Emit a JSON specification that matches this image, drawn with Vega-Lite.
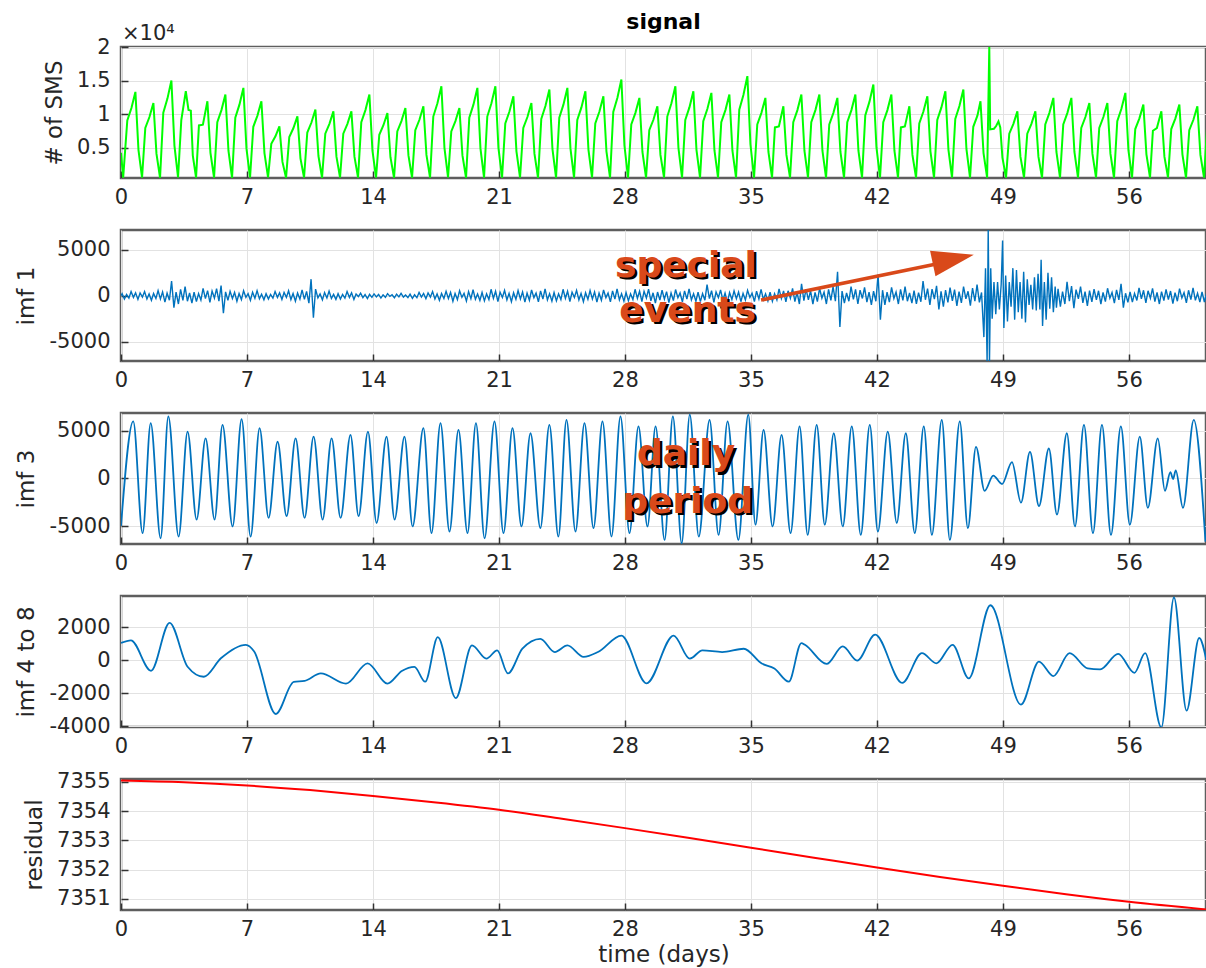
{
"$schema": "https://vega.github.io/schema/vega-lite/v6.json",
"padding": {"left": 14, "top": 9, "right": 0, "bottom": 5},
"spacing": 52,
"bounds": "flush",
"config": {
 "font": "DejaVu Sans",
 "view": {"stroke": "#5e5e5e", "strokeWidth": 2.5},
 "axis": {"domain": false, "grid": true, "gridColor": "#e2e2e2", "gridWidth": 1, "tickColor": "#333333", "tickSize": -7, "tickWidth": 1.5, "labelFontSize": 21, "labelColor": "#262626", "labelFont": "DejaVu Sans", "labelFlush": false, "titleFontSize": 23, "titleFontWeight": "normal", "titleColor": "#262626", "titleFont": "DejaVu Sans"},
 "axisX": {"labelPadding": 15, "titlePadding": 4},
 "axisY": {"labelPadding": 18, "titlePadding": 10}
},
"datasets": {
"sig": [
{"t":0,"v":4200},{"t":0.12,"v":500},{"t":0.35,"v":9040},{"t":0.58,"v":10900},{"t":0.8,"v":13300},{"t":0.97,"v":4660},
{"t":1.17,"v":520},{"t":1.35,"v":7920},{"t":1.58,"v":9550},{"t":1.8,"v":11650},{"t":1.97,"v":4080},
{"t":2.17,"v":490},{"t":2.35,"v":10200},{"t":2.58,"v":12300},{"t":2.8,"v":15000},{"t":2.97,"v":5250},
{"t":3.17,"v":530},{"t":3.35,"v":9100},{"t":3.6,"v":13400},{"t":3.75,"v":10600},{"t":3.88,"v":10500},{"t":3.99,"v":3800},
{"t":4.17,"v":500},{"t":4.33,"v":8300},{"t":4.55,"v":8400},{"t":4.8,"v":11900},{"t":4.97,"v":4200},
{"t":5.17,"v":510},{"t":5.35,"v":8770},{"t":5.58,"v":10580},{"t":5.8,"v":12900},{"t":5.97,"v":4520},
{"t":6.17,"v":480},{"t":6.35,"v":9450},{"t":6.58,"v":11400},{"t":6.8,"v":13900},{"t":6.97,"v":4870},
{"t":7.17,"v":520},{"t":7.35,"v":8090},{"t":7.58,"v":9760},{"t":7.8,"v":11900},{"t":7.97,"v":4170},
{"t":8.17,"v":540},{"t":8.35,"v":5540},{"t":8.58,"v":6680},{"t":8.8,"v":8150},{"t":8.97,"v":2850},
{"t":9.17,"v":500},{"t":9.35,"v":6560},{"t":9.58,"v":7910},{"t":9.8,"v":9650},{"t":9.97,"v":3380},
{"t":10.17,"v":520},{"t":10.35,"v":7240},{"t":10.58,"v":8730},{"t":10.8,"v":10650},{"t":10.97,"v":3730},
{"t":11.17,"v":490},{"t":11.35,"v":7070},{"t":11.58,"v":8530},{"t":11.8,"v":10400},{"t":11.97,"v":3640},
{"t":12.17,"v":530},{"t":12.35,"v":7070},{"t":12.58,"v":8530},{"t":12.8,"v":10400},{"t":12.97,"v":3640},
{"t":13.17,"v":500},{"t":13.35,"v":8770},{"t":13.58,"v":10580},{"t":13.8,"v":12900},{"t":13.97,"v":4520},
{"t":14.17,"v":520},{"t":14.35,"v":6900},{"t":14.58,"v":8320},{"t":14.8,"v":10150},{"t":14.97,"v":3550},
{"t":15.17,"v":490},{"t":15.35,"v":7410},{"t":15.58,"v":8940},{"t":15.8,"v":10900},{"t":15.97,"v":3820},
{"t":16.17,"v":510},{"t":16.35,"v":7580},{"t":16.58,"v":9140},{"t":16.8,"v":11150},{"t":16.97,"v":3900},
{"t":17.17,"v":500},{"t":17.35,"v":9620},{"t":17.58,"v":11600},{"t":17.8,"v":14150},{"t":17.97,"v":4950},
{"t":18.17,"v":530},{"t":18.35,"v":7410},{"t":18.58,"v":8940},{"t":18.8,"v":10900},{"t":18.97,"v":3820},
{"t":19.17,"v":490},{"t":19.35,"v":9450},{"t":19.58,"v":11400},{"t":19.8,"v":13900},{"t":19.97,"v":4870},
{"t":20.17,"v":510},{"t":20.35,"v":9620},{"t":20.58,"v":11600},{"t":20.8,"v":14150},{"t":20.97,"v":4950},
{"t":21.17,"v":500},{"t":21.35,"v":8600},{"t":21.58,"v":10370},{"t":21.8,"v":12650},{"t":21.97,"v":4430},
{"t":22.17,"v":520},{"t":22.35,"v":7920},{"t":22.58,"v":9550},{"t":22.8,"v":11650},{"t":22.97,"v":4080},
{"t":23.17,"v":490},{"t":23.35,"v":9280},{"t":23.58,"v":11190},{"t":23.8,"v":13650},{"t":23.97,"v":4780},
{"t":24.17,"v":510},{"t":24.35,"v":9450},{"t":24.58,"v":11400},{"t":24.8,"v":13900},{"t":24.97,"v":4870},
{"t":25.17,"v":500},{"t":25.35,"v":9110},{"t":25.58,"v":10990},{"t":25.8,"v":13400},{"t":25.97,"v":4690},
{"t":26.17,"v":520},{"t":26.35,"v":8600},{"t":26.58,"v":10370},{"t":26.8,"v":12650},{"t":26.97,"v":4430},
{"t":27.17,"v":490},{"t":27.35,"v":10300},{"t":27.58,"v":12420},{"t":27.8,"v":15150},{"t":27.97,"v":5300},
{"t":28.17,"v":510},{"t":28.35,"v":8430},{"t":28.58,"v":10170},{"t":28.8,"v":12400},{"t":28.97,"v":4340},
{"t":29.17,"v":500},{"t":29.35,"v":7580},{"t":29.58,"v":9140},{"t":29.8,"v":11150},{"t":29.97,"v":3900},
{"t":30.17,"v":520},{"t":30.35,"v":9620},{"t":30.58,"v":11600},{"t":30.8,"v":14150},{"t":30.97,"v":4950},
{"t":31.17,"v":490},{"t":31.35,"v":9110},{"t":31.58,"v":10990},{"t":31.8,"v":13400},{"t":31.97,"v":4690},
{"t":32.17,"v":510},{"t":32.35,"v":8940},{"t":32.58,"v":10780},{"t":32.8,"v":13150},{"t":32.97,"v":4600},
{"t":33.17,"v":500},{"t":33.35,"v":8770},{"t":33.58,"v":10580},{"t":33.8,"v":12900},{"t":33.97,"v":4520},
{"t":34.17,"v":520},{"t":34.35,"v":10640},{"t":34.58,"v":12830},{"t":34.8,"v":15650},{"t":34.97,"v":5480},
{"t":35.17,"v":490},{"t":35.35,"v":8430},{"t":35.58,"v":10170},{"t":35.8,"v":12400},{"t":35.97,"v":4340},
{"t":36.17,"v":510},{"t":36.33,"v":8000},{"t":36.55,"v":8150},{"t":36.8,"v":11150},{"t":36.97,"v":3900},
{"t":37.17,"v":500},{"t":37.35,"v":8770},{"t":37.58,"v":10580},{"t":37.8,"v":12900},{"t":37.97,"v":4520},
{"t":38.17,"v":520},{"t":38.35,"v":8770},{"t":38.58,"v":10580},{"t":38.8,"v":12900},{"t":38.97,"v":4520},
{"t":39.17,"v":490},{"t":39.35,"v":8430},{"t":39.58,"v":10170},{"t":39.8,"v":12400},{"t":39.97,"v":4340},
{"t":40.17,"v":510},{"t":40.35,"v":8770},{"t":40.58,"v":10580},{"t":40.8,"v":12900},{"t":40.97,"v":4520},
{"t":41.17,"v":500},{"t":41.35,"v":9790},{"t":41.58,"v":11810},{"t":41.8,"v":14400},{"t":41.97,"v":5040},
{"t":42.17,"v":520},{"t":42.35,"v":8770},{"t":42.58,"v":10580},{"t":42.8,"v":12900},{"t":42.97,"v":4520},
{"t":43.17,"v":490},{"t":43.33,"v":8000},{"t":43.55,"v":8150},{"t":43.8,"v":11150},{"t":43.97,"v":3900},
{"t":44.17,"v":510},{"t":44.35,"v":8600},{"t":44.58,"v":10370},{"t":44.8,"v":12650},{"t":44.97,"v":4430},
{"t":45.17,"v":500},{"t":45.35,"v":9110},{"t":45.58,"v":10990},{"t":45.8,"v":13400},{"t":45.97,"v":4690},
{"t":46.17,"v":520},{"t":46.35,"v":9280},{"t":46.58,"v":11190},{"t":46.8,"v":13650},{"t":46.97,"v":4780},
{"t":47.17,"v":490},{"t":47.35,"v":8090},{"t":47.58,"v":9760},{"t":47.75,"v":11900},{"t":47.92,"v":4170},
{"t":48.12,"v":500},{"t":48.24,"v":20000},{"t":48.29,"v":7700},{"t":48.5,"v":7800},{"t":48.62,"v":8200},{"t":48.75,"v":8900},{"t":48.85,"v":8000},{"t":48.97,"v":3500},
{"t":49.17,"v":500},{"t":49.35,"v":7070},{"t":49.58,"v":8530},{"t":49.8,"v":10400},{"t":49.97,"v":3640},
{"t":50.17,"v":520},{"t":50.35,"v":7070},{"t":50.58,"v":8530},{"t":50.8,"v":10400},{"t":50.97,"v":3640},
{"t":51.17,"v":490},{"t":51.35,"v":8430},{"t":51.58,"v":10170},{"t":51.8,"v":12400},{"t":51.97,"v":4340},
{"t":52.17,"v":510},{"t":52.35,"v":8430},{"t":52.58,"v":10170},{"t":52.8,"v":12400},{"t":52.97,"v":4340},
{"t":53.17,"v":500},{"t":53.35,"v":7920},{"t":53.58,"v":9550},{"t":53.8,"v":11650},{"t":53.97,"v":4080},
{"t":54.17,"v":520},{"t":54.35,"v":7920},{"t":54.58,"v":9550},{"t":54.8,"v":11650},{"t":54.97,"v":4080},
{"t":55.17,"v":490},{"t":55.35,"v":8940},{"t":55.58,"v":10780},{"t":55.8,"v":13150},{"t":55.97,"v":4600},
{"t":56.17,"v":510},{"t":56.35,"v":7750},{"t":56.58,"v":9350},{"t":56.8,"v":11400},{"t":56.97,"v":3990},
{"t":57.17,"v":500},{"t":57.33,"v":7500},{"t":57.55,"v":7900},{"t":57.8,"v":10400},{"t":57.97,"v":3640},
{"t":58.17,"v":520},{"t":58.35,"v":7750},{"t":58.58,"v":9350},{"t":58.8,"v":11400},{"t":58.97,"v":3990},
{"t":59.17,"v":490},{"t":59.35,"v":7580},{"t":59.58,"v":9140},{"t":59.8,"v":11150},{"t":59.97,"v":3900},
{"t":60.17,"v":510},{"t":60.35,"v":8500}
],
"imf1": [
{"t":0,"v":0},{"t":0.06,"v":225},{"t":0.19,"v":-360},{"t":0.31,"v":135},{"t":0.44,"v":-270},{"t":0.56,"v":450},{"t":0.69,"v":-180},{"t":0.81,"v":315},{"t":0.94,"v":-405},
{"t":1.06,"v":300},{"t":1.19,"v":-150},{"t":1.31,"v":450},{"t":1.44,"v":-350},{"t":1.56,"v":200},{"t":1.69,"v":-500},{"t":1.81,"v":250},{"t":1.94,"v":-300},
{"t":2.06,"v":560},{"t":2.19,"v":-350},{"t":2.31,"v":420},{"t":2.44,"v":-700},{"t":2.56,"v":280},{"t":2.69,"v":-490},{"t":2.81,"v":1600},{"t":2.94,"v":-1300},
{"t":3.06,"v":400},{"t":3.19,"v":-900},{"t":3.31,"v":700},{"t":3.44,"v":-500},{"t":3.56,"v":1000},{"t":3.69,"v":-600},{"t":3.81,"v":300},{"t":3.94,"v":-800},
{"t":4.06,"v":400},{"t":4.19,"v":-640},{"t":4.31,"v":240},{"t":4.44,"v":-480},{"t":4.56,"v":800},{"t":4.69,"v":-320},{"t":4.81,"v":560},{"t":4.94,"v":-720},
{"t":5.06,"v":510},{"t":5.19,"v":-255},{"t":5.31,"v":765},{"t":5.44,"v":-595},{"t":5.56,"v":1100},{"t":5.69,"v":-1900},{"t":5.81,"v":425},{"t":5.94,"v":-510},
{"t":6.06,"v":480},{"t":6.19,"v":-300},{"t":6.31,"v":360},{"t":6.44,"v":-600},{"t":6.56,"v":240},{"t":6.69,"v":-420},{"t":6.81,"v":540},{"t":6.94,"v":-180},
{"t":7.06,"v":220},{"t":7.19,"v":-495},{"t":7.31,"v":385},{"t":7.44,"v":-275},{"t":7.56,"v":550},{"t":7.69,"v":-330},{"t":7.81,"v":165},{"t":7.94,"v":-440},
{"t":8.06,"v":225},{"t":8.19,"v":-360},{"t":8.31,"v":135},{"t":8.44,"v":-270},{"t":8.56,"v":450},{"t":8.69,"v":-180},{"t":8.81,"v":315},{"t":8.94,"v":-405},
{"t":9.06,"v":360},{"t":9.19,"v":-180},{"t":9.31,"v":540},{"t":9.44,"v":-420},{"t":9.56,"v":240},{"t":9.69,"v":-600},{"t":9.81,"v":300},{"t":9.94,"v":-360},
{"t":10.06,"v":640},{"t":10.19,"v":-400},{"t":10.31,"v":480},{"t":10.44,"v":-800},{"t":10.56,"v":1800},{"t":10.69,"v":-2400},{"t":10.81,"v":720},{"t":10.94,"v":-240},
{"t":11.06,"v":200},{"t":11.19,"v":-450},{"t":11.31,"v":350},{"t":11.44,"v":-250},{"t":11.56,"v":500},{"t":11.69,"v":-300},{"t":11.81,"v":150},{"t":11.94,"v":-400},
{"t":12.06,"v":225},{"t":12.19,"v":-360},{"t":12.31,"v":135},{"t":12.44,"v":-270},{"t":12.56,"v":450},{"t":12.69,"v":-180},{"t":12.81,"v":315},{"t":12.94,"v":-405},
{"t":13.06,"v":180},{"t":13.19,"v":-90},{"t":13.31,"v":270},{"t":13.44,"v":-210},{"t":13.56,"v":120},{"t":13.69,"v":-300},{"t":13.81,"v":150},{"t":13.94,"v":-180},
{"t":14.06,"v":200},{"t":14.19,"v":-125},{"t":14.31,"v":150},{"t":14.44,"v":-250},{"t":14.56,"v":100},{"t":14.69,"v":-175},{"t":14.81,"v":225},{"t":14.94,"v":-75},
{"t":15.06,"v":100},{"t":15.19,"v":-225},{"t":15.31,"v":175},{"t":15.44,"v":-125},{"t":15.56,"v":250},{"t":15.69,"v":-150},{"t":15.81,"v":75},{"t":15.94,"v":-200},
{"t":16.06,"v":175},{"t":16.19,"v":-280},{"t":16.31,"v":105},{"t":16.44,"v":-210},{"t":16.56,"v":350},{"t":16.69,"v":-140},{"t":16.81,"v":245},{"t":16.94,"v":-315},
{"t":17.06,"v":300},{"t":17.19,"v":-150},{"t":17.31,"v":450},{"t":17.44,"v":-350},{"t":17.56,"v":200},{"t":17.69,"v":-500},{"t":17.81,"v":250},{"t":17.94,"v":-300},
{"t":18.06,"v":480},{"t":18.19,"v":-300},{"t":18.31,"v":360},{"t":18.44,"v":-600},{"t":18.56,"v":240},{"t":18.69,"v":-420},{"t":18.81,"v":540},{"t":18.94,"v":-180},
{"t":19.06,"v":260},{"t":19.19,"v":-585},{"t":19.31,"v":455},{"t":19.44,"v":-325},{"t":19.56,"v":650},{"t":19.69,"v":-390},{"t":19.81,"v":195},{"t":19.94,"v":-520},
{"t":20.06,"v":350},{"t":20.19,"v":-560},{"t":20.31,"v":210},{"t":20.44,"v":-420},{"t":20.56,"v":700},{"t":20.69,"v":-280},{"t":20.81,"v":490},{"t":20.94,"v":-630},
{"t":21.06,"v":390},{"t":21.19,"v":-195},{"t":21.31,"v":585},{"t":21.44,"v":-455},{"t":21.56,"v":260},{"t":21.69,"v":-650},{"t":21.81,"v":325},{"t":21.94,"v":-390},
{"t":22.06,"v":560},{"t":22.19,"v":-350},{"t":22.31,"v":420},{"t":22.44,"v":-700},{"t":22.56,"v":280},{"t":22.69,"v":-490},{"t":22.81,"v":630},{"t":22.94,"v":-210},
{"t":23.06,"v":300},{"t":23.19,"v":-675},{"t":23.31,"v":525},{"t":23.44,"v":-375},{"t":23.56,"v":750},{"t":23.69,"v":-450},{"t":23.81,"v":225},{"t":23.94,"v":-600},
{"t":24.06,"v":350},{"t":24.19,"v":-560},{"t":24.31,"v":210},{"t":24.44,"v":-420},{"t":24.56,"v":700},{"t":24.69,"v":-280},{"t":24.81,"v":490},{"t":24.94,"v":-630},
{"t":25.06,"v":390},{"t":25.19,"v":-195},{"t":25.31,"v":585},{"t":25.44,"v":-455},{"t":25.56,"v":260},{"t":25.69,"v":-650},{"t":25.81,"v":325},{"t":25.94,"v":-390},
{"t":26.06,"v":560},{"t":26.19,"v":-350},{"t":26.31,"v":420},{"t":26.44,"v":-700},{"t":26.56,"v":280},{"t":26.69,"v":-490},{"t":26.81,"v":630},{"t":26.94,"v":-210},
{"t":27.06,"v":300},{"t":27.19,"v":-675},{"t":27.31,"v":525},{"t":27.44,"v":-375},{"t":27.56,"v":750},{"t":27.69,"v":-450},{"t":27.81,"v":225},{"t":27.94,"v":-600},
{"t":28.06,"v":350},{"t":28.19,"v":-560},{"t":28.31,"v":210},{"t":28.44,"v":-420},{"t":28.56,"v":700},{"t":28.69,"v":-280},{"t":28.81,"v":490},{"t":28.94,"v":-630},
{"t":29.06,"v":480},{"t":29.19,"v":-240},{"t":29.31,"v":720},{"t":29.44,"v":-560},{"t":29.56,"v":320},{"t":29.69,"v":-800},{"t":29.81,"v":400},{"t":29.94,"v":-480},
{"t":30.06,"v":600},{"t":30.19,"v":-375},{"t":30.31,"v":450},{"t":30.44,"v":-750},{"t":30.56,"v":300},{"t":30.69,"v":-525},{"t":30.81,"v":675},{"t":30.94,"v":-225},
{"t":31.06,"v":300},{"t":31.19,"v":-675},{"t":31.31,"v":525},{"t":31.44,"v":-375},{"t":31.56,"v":750},{"t":31.69,"v":-450},{"t":31.81,"v":225},{"t":31.94,"v":-600},
{"t":32.06,"v":400},{"t":32.19,"v":-640},{"t":32.31,"v":240},{"t":32.44,"v":-480},{"t":32.56,"v":1200},{"t":32.69,"v":-320},{"t":32.81,"v":560},{"t":32.94,"v":-720},
{"t":33.06,"v":420},{"t":33.19,"v":-210},{"t":33.31,"v":630},{"t":33.44,"v":-490},{"t":33.56,"v":280},{"t":33.69,"v":-700},{"t":33.81,"v":350},{"t":33.94,"v":-420},
{"t":34.06,"v":520},{"t":34.19,"v":-325},{"t":34.31,"v":390},{"t":34.44,"v":-650},{"t":34.56,"v":260},{"t":34.69,"v":-455},{"t":34.81,"v":585},{"t":34.94,"v":-195},
{"t":35.06,"v":280},{"t":35.19,"v":-630},{"t":35.31,"v":490},{"t":35.44,"v":-350},{"t":35.56,"v":700},{"t":35.69,"v":-420},{"t":35.81,"v":210},{"t":35.94,"v":-560},
{"t":36.06,"v":375},{"t":36.19,"v":-600},{"t":36.31,"v":225},{"t":36.44,"v":-450},{"t":36.56,"v":750},{"t":36.69,"v":-300},{"t":36.81,"v":525},{"t":36.94,"v":-675},
{"t":37.06,"v":540},{"t":37.19,"v":-270},{"t":37.31,"v":810},{"t":37.44,"v":-630},{"t":37.56,"v":360},{"t":37.69,"v":-900},{"t":37.81,"v":1300},{"t":37.94,"v":-540},
{"t":38.06,"v":720},{"t":38.19,"v":-450},{"t":38.31,"v":540},{"t":38.44,"v":-900},{"t":38.56,"v":360},{"t":38.69,"v":-630},{"t":38.81,"v":810},{"t":38.94,"v":-270},
{"t":39.06,"v":400},{"t":39.19,"v":-900},{"t":39.31,"v":700},{"t":39.44,"v":-500},{"t":39.56,"v":1000},{"t":39.69,"v":-600},{"t":39.81,"v":2600},{"t":39.94,"v":-3400},
{"t":40.06,"v":500},{"t":40.19,"v":-800},{"t":40.31,"v":300},{"t":40.44,"v":-600},{"t":40.56,"v":1000},{"t":40.69,"v":-400},{"t":40.81,"v":700},{"t":40.94,"v":-900},
{"t":41.06,"v":600},{"t":41.19,"v":-300},{"t":41.31,"v":900},{"t":41.44,"v":-700},{"t":41.56,"v":400},{"t":41.69,"v":-1000},{"t":41.81,"v":500},{"t":41.94,"v":-600},
{"t":42.06,"v":2300},{"t":42.19,"v":-2600},{"t":42.31,"v":600},{"t":42.44,"v":-1000},{"t":42.56,"v":400},{"t":42.69,"v":-700},{"t":42.81,"v":900},{"t":42.94,"v":-300},
{"t":43.06,"v":400},{"t":43.19,"v":-900},{"t":43.31,"v":700},{"t":43.44,"v":-500},{"t":43.56,"v":1000},{"t":43.69,"v":-600},{"t":43.81,"v":300},{"t":43.94,"v":-800},
{"t":44.06,"v":550},{"t":44.19,"v":-880},{"t":44.31,"v":330},{"t":44.44,"v":-660},{"t":44.56,"v":1600},{"t":44.69,"v":-440},{"t":44.81,"v":770},{"t":44.94,"v":-990},
{"t":45.06,"v":720},{"t":45.19,"v":-360},{"t":45.31,"v":1080},{"t":45.44,"v":-1500},{"t":45.56,"v":480},{"t":45.69,"v":-1200},{"t":45.81,"v":600},{"t":45.94,"v":-720},
{"t":46.06,"v":880},{"t":46.19,"v":-550},{"t":46.31,"v":660},{"t":46.44,"v":-1100},{"t":46.56,"v":440},{"t":46.69,"v":-770},{"t":46.81,"v":990},{"t":46.94,"v":-330},
{"t":47.06,"v":480},{"t":47.19,"v":-1080},{"t":47.31,"v":840},{"t":47.44,"v":-600},{"t":47.56,"v":1200},{"t":47.69,"v":-720},{"t":47.81,"v":360},{"t":47.94,"v":-4500},
{"t":48.03,"v":3000},{"t":48.12,"v":-7300},{"t":48.18,"v":7300},{"t":48.25,"v":-7300},{"t":48.32,"v":3000},{"t":48.4,"v":-2500},{"t":48.5,"v":1500},{"t":48.6,"v":-2000},{"t":48.7,"v":1500},{"t":48.8,"v":-1500},{"t":48.9,"v":1200},{"t":48.98,"v":6000},
{"t":49.05,"v":-3500},{"t":49.15,"v":2200},{"t":49.25,"v":-2800},{"t":49.35,"v":1500},{"t":49.45,"v":-1200},{"t":49.55,"v":3000},{"t":49.65,"v":-2600},{"t":49.75,"v":2800},{"t":49.85,"v":-1800},{"t":49.95,"v":1500},
{"t":50.05,"v":-2500},{"t":50.15,"v":2600},{"t":50.25,"v":-2900},{"t":50.35,"v":1800},{"t":50.45,"v":-1000},{"t":50.55,"v":1200},{"t":50.65,"v":-1500},{"t":50.75,"v":2000},{"t":50.85,"v":-1600},{"t":50.95,"v":2400},
{"t":51.05,"v":-1500},{"t":51.12,"v":3900},{"t":51.2,"v":-3300},{"t":51.3,"v":1500},{"t":51.4,"v":-2600},{"t":51.5,"v":2500},{"t":51.6,"v":-1400},{"t":51.7,"v":2000},{"t":51.8,"v":-1800},{"t":51.9,"v":1000},{"t":51.97,"v":-1300},
{"t":52.06,"v":750},{"t":52.19,"v":-1200},{"t":52.31,"v":450},{"t":52.44,"v":-900},{"t":52.56,"v":1500},{"t":52.69,"v":-600},{"t":52.81,"v":1050},{"t":52.94,"v":-1350},
{"t":53.06,"v":660},{"t":53.19,"v":-330},{"t":53.31,"v":990},{"t":53.44,"v":-770},{"t":53.56,"v":440},{"t":53.69,"v":-1100},{"t":53.81,"v":550},{"t":53.94,"v":-660},
{"t":54.06,"v":720},{"t":54.19,"v":-450},{"t":54.31,"v":540},{"t":54.44,"v":-900},{"t":54.56,"v":360},{"t":54.69,"v":-630},{"t":54.81,"v":810},{"t":54.94,"v":-270},
{"t":55.06,"v":360},{"t":55.19,"v":-810},{"t":55.31,"v":630},{"t":55.44,"v":-450},{"t":55.56,"v":1300},{"t":55.69,"v":-1300},{"t":55.81,"v":270},{"t":55.94,"v":-720},
{"t":56.06,"v":425},{"t":56.19,"v":-680},{"t":56.31,"v":255},{"t":56.44,"v":-510},{"t":56.56,"v":850},{"t":56.69,"v":-340},{"t":56.81,"v":595},{"t":56.94,"v":-765},
{"t":57.06,"v":540},{"t":57.19,"v":-270},{"t":57.31,"v":810},{"t":57.44,"v":-630},{"t":57.56,"v":360},{"t":57.69,"v":-900},{"t":57.81,"v":450},{"t":57.94,"v":-540},
{"t":58.06,"v":680},{"t":58.19,"v":-425},{"t":58.31,"v":510},{"t":58.44,"v":-850},{"t":58.56,"v":340},{"t":58.69,"v":-595},{"t":58.81,"v":765},{"t":58.94,"v":-255},
{"t":59.06,"v":340},{"t":59.19,"v":-765},{"t":59.31,"v":595},{"t":59.44,"v":-425},{"t":59.56,"v":850},{"t":59.69,"v":-510},{"t":59.81,"v":255},{"t":59.94,"v":-680},
{"t":60.06,"v":425},{"t":60.19,"v":-680},{"t":60.31,"v":255}
],
"imf3": [
{"t":0,"v":-5000},{"t":0.68,"v":5960},{"t":1.2,"v":-5740},{"t":1.65,"v":5780},{"t":2.2,"v":-6280},{"t":2.63,"v":6490},{"t":3.2,"v":-6100},{"t":3.7,"v":4890},{"t":4.2,"v":-4330},{"t":4.7,"v":4180},
{"t":5.2,"v":-4330},{"t":5.64,"v":5600},{"t":6.2,"v":-5040},{"t":6.7,"v":6200},{"t":7.2,"v":-6100},{"t":7.7,"v":5250},{"t":8.2,"v":-4150},{"t":8.7,"v":3830},{"t":9.2,"v":-3970},{"t":9.7,"v":4180},
{"t":10.2,"v":-4150},{"t":10.7,"v":4360},{"t":11.2,"v":-4330},{"t":11.7,"v":4180},{"t":12.2,"v":-4150},{"t":12.75,"v":4540},{"t":13.2,"v":-3970},{"t":13.72,"v":4890},{"t":14.2,"v":-4680},{"t":14.75,"v":4360},
{"t":15.2,"v":-4330},{"t":15.75,"v":4360},{"t":16.2,"v":-5040},{"t":16.8,"v":5250},{"t":17.25,"v":-5740},{"t":17.75,"v":5780},{"t":18.25,"v":-5570},{"t":18.75,"v":5070},{"t":19.25,"v":-5740},{"t":19.72,"v":5780},
{"t":20.2,"v":-6280},{"t":20.75,"v":5960},{"t":21.25,"v":-5740},{"t":21.75,"v":5250},{"t":22.25,"v":-5040},{"t":22.75,"v":4720},{"t":23.3,"v":-5210},{"t":23.8,"v":5600},{"t":24.3,"v":-6100},{"t":24.75,"v":6130},
{"t":25.25,"v":-5570},{"t":25.75,"v":5780},{"t":26.25,"v":-5210},{"t":26.75,"v":5960},{"t":27.25,"v":-6100},{"t":27.75,"v":6490},{"t":28.25,"v":-5740},{"t":28.75,"v":5430},{"t":29.25,"v":-5040},{"t":29.7,"v":5430},
{"t":30.2,"v":-6450},{"t":30.66,"v":6490},{"t":31.15,"v":-6800},{"t":31.6,"v":6670},{"t":32.1,"v":-6100},{"t":32.7,"v":6130},{"t":33.2,"v":-5920},{"t":33.7,"v":5960},{"t":34.3,"v":-6450},{"t":34.85,"v":6670},
{"t":35.25,"v":-4860},{"t":35.7,"v":5070},{"t":36.2,"v":-5040},{"t":36.7,"v":4540},{"t":37.2,"v":-5740},{"t":37.7,"v":5430},{"t":38.15,"v":-5920},{"t":38.65,"v":5600},{"t":39.1,"v":-4860},{"t":39.6,"v":4720},
{"t":40.1,"v":-5040},{"t":40.6,"v":5430},{"t":41.1,"v":-5920},{"t":41.6,"v":5600},{"t":42.05,"v":-5570},{"t":42.6,"v":4890},{"t":43.1,"v":-4680},{"t":43.6,"v":4720},{"t":44.1,"v":-5740},{"t":44.6,"v":5430},
{"t":45.05,"v":-5920},{"t":45.6,"v":6130},{"t":46.05,"v":-6450},{"t":46.6,"v":5960},{"t":47.05,"v":-5210},{"t":47.5,"v":3300},{"t":47.98,"v":-1310},{"t":48.46,"v":280},{"t":48.95,"v":-600},{"t":49.5,"v":1700},
{"t":50.0,"v":-2550},{"t":50.5,"v":2770},{"t":51.0,"v":-2900},{"t":51.55,"v":3120},{"t":52.0,"v":-3790},{"t":52.55,"v":4720},{"t":53.0,"v":-5040},{"t":53.5,"v":5600},{"t":54.0,"v":-5740},{"t":54.5,"v":5600},
{"t":55.0,"v":-5920},{"t":55.55,"v":5430},{"t":56.05,"v":-4860},{"t":56.6,"v":4360},{"t":57.05,"v":-3090},{"t":57.6,"v":4180},{"t":58.0,"v":-1310},{"t":58.3,"v":640},{"t":58.45,"v":-70},{"t":58.6,"v":820},
{"t":59.0,"v":-3090},{"t":59.6,"v":6130},{"t":60.25,"v":-6630}
],
"imf48": [
{"t":0,"v":1046},{"t":0.55,"v":1210},{"t":1.67,"v":-635},{"t":2.7,"v":2275},{"t":3.7,"v":-390},{"t":4.6,"v":-1000},{"t":5.55,"v":120},{"t":6.94,"v":940},{"t":7.4,"v":530},{"t":8.6,"v":-3260},
{"t":9.6,"v":-1310},{"t":10.2,"v":-1250},{"t":11.1,"v":-800},{"t":12.5,"v":-1415},{"t":13.7,"v":-185},{"t":14.8,"v":-1415},{"t":15.6,"v":-650},{"t":16.3,"v":-400},{"t":16.9,"v":-1300},{"t":17.6,"v":1400},
{"t":18.6,"v":-2300},{"t":19.5,"v":900},{"t":20.3,"v":100},{"t":20.9,"v":600},{"t":21.5,"v":-800},{"t":22.3,"v":700},{"t":23.3,"v":1300},{"t":24.1,"v":500},{"t":24.8,"v":900},{"t":25.7,"v":200},
{"t":26.5,"v":500},{"t":27.8,"v":1500},{"t":29.2,"v":-1400},{"t":30.7,"v":1500},{"t":31.6,"v":100},{"t":32.3,"v":600},{"t":33.4,"v":500},{"t":34.6,"v":700},{"t":35.6,"v":-200},{"t":36.3,"v":-500},
{"t":37.1,"v":-1300},{"t":37.8,"v":1046},{"t":38.0,"v":940},{"t":39.2,"v":-225},{"t":40.1,"v":840},{"t":40.9,"v":-20},{"t":41.9,"v":1560},{"t":43.4,"v":-1370},{"t":44.5,"v":430},{"t":45.3,"v":-185},
{"t":46.2,"v":940},{"t":47.1,"v":-1100},{"t":48.3,"v":3340},{"t":50.0,"v":-2690},{"t":51.0,"v":-80},{"t":51.8,"v":-960},{"t":52.7,"v":430},{"t":53.7,"v":-490},{"t":54.4,"v":-550},{"t":55.4,"v":390},
{"t":56.3,"v":-760},{"t":56.9,"v":430},{"t":57.8,"v":-4080},{"t":58.5,"v":3810},{"t":59.2,"v":-3060},{"t":59.9,"v":1350},{"t":60.3,"v":20}
],
"res": [
{"t":0,"v":7355.05},{"t":3.5,"v":7354.99},{"t":7,"v":7354.88},{"t":10.5,"v":7354.72},{"t":14,"v":7354.52},{"t":17.5,"v":7354.3},{"t":21,"v":7354.05},{"t":24.5,"v":7353.74},{"t":28,"v":7353.42},
{"t":31.5,"v":7353.09},{"t":35,"v":7352.75},{"t":38.5,"v":7352.41},{"t":42,"v":7352.07},{"t":45.5,"v":7351.75},{"t":49,"v":7351.45},{"t":52.5,"v":7351.16},{"t":56,"v":7350.9},{"t":60.28,"v":7350.64}
]
},
"vconcat": [
{
 "width": 1085, "height": 131,
 "title": {"text": "signal", "fontSize": 22, "fontWeight": "bold", "color": "#000000", "frame": "group", "anchor": "middle", "offset": -11, "font": "DejaVu Sans"},
 "layer": [
  {"data": {"name": "sig"}, "mark": {"type": "line", "color": "#00ff00", "strokeWidth": 2, "clip": true},
   "encoding": {
    "x": {"field": "t", "type": "quantitative", "scale": {"domain": [0, 60.28], "nice": false, "zero": false}, "axis": {"values": [0,7,14,21,28,35,42,49,56], "format": "d", "title": null}},
    "y": {"field": "v", "type": "quantitative", "scale": {"domain": [450, 20000], "nice": false, "zero": false}, "axis": {"values": [5000,10000,15000,20000], "labelExpr": "datum.value / 10000", "title": "# of SMS"}}
   }},
  {"data": {"values": [{}]}, "mark": {"type": "text", "text": "×10⁴", "align": "left", "baseline": "bottom", "dx": 1, "dy": -3, "fontSize": 21, "color": "#262626"},
   "encoding": {"x": {"datum": 0}, "y": {"datum": 20000}}}
 ]
},
{
 "width": 1085, "height": 131,
 "layer": [
  {"data": {"name": "imf1"}, "mark": {"type": "line", "color": "#0072bd", "strokeWidth": 1.4, "clip": true},
   "encoding": {
    "x": {"field": "t", "type": "quantitative", "scale": {"domain": [0, 60.28], "nice": false, "zero": false}, "axis": {"values": [0,7,14,21,28,35,42,49,56], "format": "d", "title": null}},
    "y": {"field": "v", "type": "quantitative", "scale": {"domain": [-7100, 7150], "nice": false, "zero": false}, "axis": {"values": [-5000,0,5000], "labelExpr": "datum.value < 0 ? '-' + abs(datum.value) : '' + datum.value", "title": "imf 1"}}
   }},
  {"data": {"values": [{}]}, "mark": {"type": "rule", "color": "#d9491a", "strokeWidth": 3.5},
   "encoding": {"x": {"datum": 35.56}, "y": {"datum": -470}, "x2": {"datum": 45.3}, "y2": {"datum": 3450}}},
  {"data": {"values": [{}]}, "mark": {"type": "point", "shape": "M-1,-0.62L1,0L-1,0.62Z", "filled": true, "color": "#d9491a", "opacity": 1, "size": 1760, "angle": 348},
   "encoding": {"x": {"datum": 46.24}, "y": {"datum": 3975}}},
  {"data": {"values": [{}]}, "mark": {"type": "text", "text": "special", "align": "center", "baseline": "alphabetic", "fontSize": 36, "fontWeight": "bold", "color": "#000000", "dx": 2.5, "dy": 2.5},
   "encoding": {"x": {"datum": 31.39}, "y": {"datum": 2075}}},
  {"data": {"values": [{}]}, "mark": {"type": "text", "text": "events", "align": "center", "baseline": "alphabetic", "fontSize": 36, "fontWeight": "bold", "color": "#000000", "dx": 2.5, "dy": 2.5},
   "encoding": {"x": {"datum": 31.48}, "y": {"datum": -2840}}},
  {"data": {"values": [{}]}, "mark": {"type": "text", "text": "special", "align": "center", "baseline": "alphabetic", "fontSize": 36, "fontWeight": "bold", "color": "#d9491a"},
   "encoding": {"x": {"datum": 31.39}, "y": {"datum": 2075}}},
  {"data": {"values": [{}]}, "mark": {"type": "text", "text": "events", "align": "center", "baseline": "alphabetic", "fontSize": 36, "fontWeight": "bold", "color": "#d9491a"},
   "encoding": {"x": {"datum": 31.48}, "y": {"datum": -2840}}}
 ]
},
{
 "width": 1085, "height": 131,
 "layer": [
  {"data": {"name": "imf3"}, "mark": {"type": "line", "color": "#0072bd", "strokeWidth": 1.8, "clip": true, "interpolate": "monotone"},
   "encoding": {
    "x": {"field": "t", "type": "quantitative", "scale": {"domain": [0, 60.28], "nice": false, "zero": false}, "axis": {"values": [0,7,14,21,28,35,42,49,56], "format": "d", "title": null}},
    "y": {"field": "v", "type": "quantitative", "scale": {"domain": [-6880, 6840], "nice": false, "zero": false}, "axis": {"values": [-5000,0,5000], "labelExpr": "datum.value < 0 ? '-' + abs(datum.value) : '' + datum.value", "title": "imf 3"}}
   }},
  {"data": {"values": [{}]}, "mark": {"type": "text", "text": "daily", "align": "center", "baseline": "alphabetic", "fontSize": 36, "fontWeight": "bold", "color": "#000000", "dx": 2.5, "dy": 2.5},
   "encoding": {"x": {"datum": 31.39}, "y": {"datum": 1350}}},
  {"data": {"values": [{}]}, "mark": {"type": "text", "text": "period", "align": "center", "baseline": "alphabetic", "fontSize": 36, "fontWeight": "bold", "color": "#000000", "dx": 2.5, "dy": 2.5},
   "encoding": {"x": {"datum": 31.48}, "y": {"datum": -3620}}},
  {"data": {"values": [{}]}, "mark": {"type": "text", "text": "daily", "align": "center", "baseline": "alphabetic", "fontSize": 36, "fontWeight": "bold", "color": "#d9491a"},
   "encoding": {"x": {"datum": 31.39}, "y": {"datum": 1350}}},
  {"data": {"values": [{}]}, "mark": {"type": "text", "text": "period", "align": "center", "baseline": "alphabetic", "fontSize": 36, "fontWeight": "bold", "color": "#d9491a"},
   "encoding": {"x": {"datum": 31.48}, "y": {"datum": -3620}}}
 ]
},
{
 "width": 1085, "height": 131,
 "data": {"name": "imf48"},
 "mark": {"type": "line", "color": "#0072bd", "strokeWidth": 1.8, "clip": true, "interpolate": "monotone"},
 "encoding": {
  "x": {"field": "t", "type": "quantitative", "scale": {"domain": [0, 60.28], "nice": false, "zero": false}, "axis": {"values": [0,7,14,21,28,35,42,49,56], "format": "d", "title": null}},
  "y": {"field": "v", "type": "quantitative", "scale": {"domain": [-4050, 3900], "nice": false, "zero": false}, "axis": {"values": [-4000,-2000,0,2000], "labelExpr": "datum.value < 0 ? '-' + abs(datum.value) : '' + datum.value", "title": "imf 4 to 8"}}
 }
},
{
 "width": 1085, "height": 131,
 "data": {"name": "res"},
 "mark": {"type": "line", "color": "#ff0000", "strokeWidth": 2, "clip": true, "interpolate": "monotone"},
 "encoding": {
  "x": {"field": "t", "type": "quantitative", "scale": {"domain": [0, 60.28], "nice": false, "zero": false}, "axis": {"values": [0,7,14,21,28,35,42,49,56], "format": "d", "title": "time (days)"}},
  "y": {"field": "v", "type": "quantitative", "scale": {"domain": [7350.62, 7355.1], "nice": false, "zero": false}, "axis": {"values": [7351,7352,7353,7354,7355], "format": "d", "title": "residual"}}
 }
}
]
}
